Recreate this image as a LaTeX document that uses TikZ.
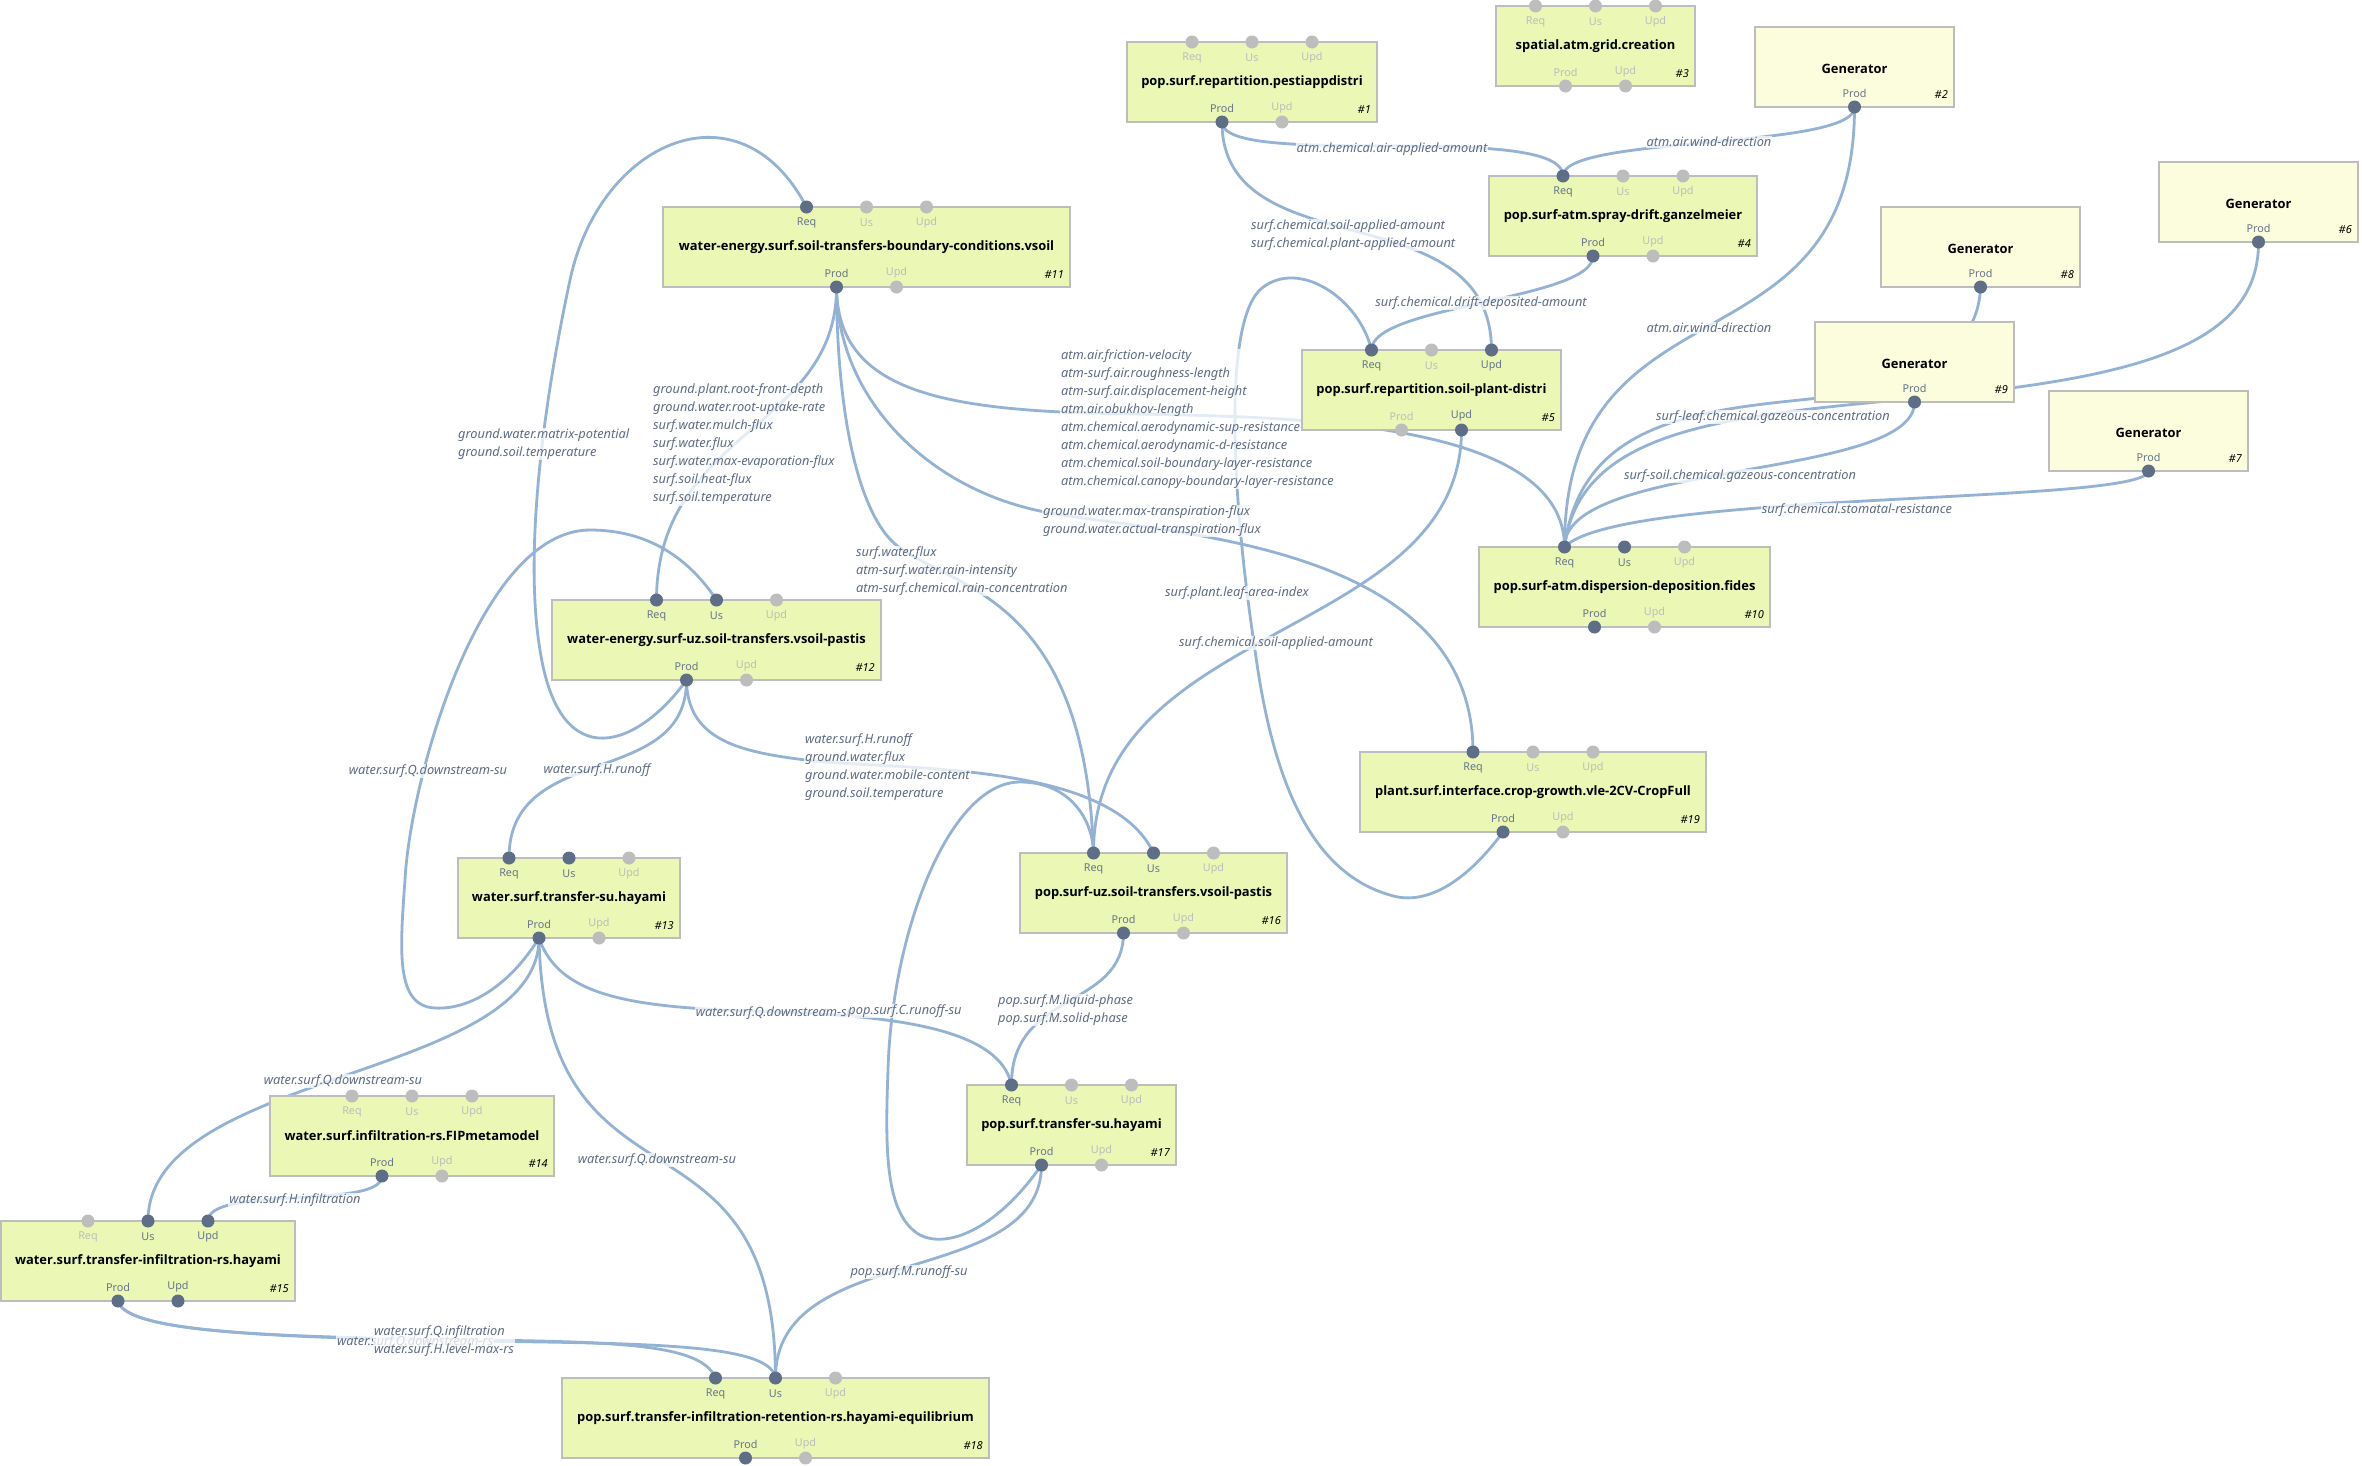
\documentclass[tikz,border=0pt]{standalone}
\usepackage{fontspec}
\setmainfont{Noto Sans}
\newfontfamily\tfont{Open Sans}
\usetikzlibrary{calc}
\pgfdeclarelayer{edgelayer}
\pgfdeclarelayer{labellayer}
\pgfsetlayers{edgelayer,labellayer,main}
\definecolor{edgec}{HTML}{93B2D4}
\definecolor{portAc}{HTML}{5D6E86}
\definecolor{portIc}{HTML}{BDBDBD}
\definecolor{lblAc}{HTML}{68758A}
\definecolor{lblIc}{HTML}{BDBDBD}
\definecolor{procfill}{HTML}{EBF7B5}
\definecolor{genfill}{HTML}{FBFDDC}
\definecolor{boxline}{HTML}{BDBDBD}
\definecolor{elabc}{HTML}{5F6C84}
\tikzset{
 edge/.style={draw=edgec, line width=2.8pt},
 elab/.style={font=\fontsize{12.8}{18}\selectfont\itshape, text=elabc, fill=white, fill opacity=0.75, text opacity=1, inner sep=1pt, align=left},
 pbox/.style={rectangle, draw=boxline, line width=2pt, fill=procfill, minimum height=80pt, inner sep=0pt},
 gbox/.style={pbox, fill=genfill},
 ptitle/.style={font=\tfont\fontsize{12.9}{15}\selectfont\bfseries, text=black, inner sep=0pt},
 pnum/.style={font=\fontsize{11}{13}\selectfont\itshape, text=black, inner sep=0pt},
 plabA/.style={font=\fontsize{10.8}{12}\selectfont, text=lblAc, inner sep=0pt},
 plabI/.style={plabA, text=lblIc},
 dotA/.style={circle, fill=portAc, minimum size=13pt, inner sep=0pt},
 dotI/.style={circle, fill=portIc, minimum size=13pt, inner sep=0pt},
}
% process box: name, cx, top, width, title, number
\newcommand{\procbox}[6]{%
 \node[pbox, minimum width=#4pt] (#1) at (#2,#3+40) {};
 \node[ptitle] (#1t) at (#2,#3+40) {#5};
 \node[pnum, anchor=east] (#1n) at (#2+#4/2-6,#3+68) {#6};
}
% top ports: name, cx, top, states
\newcommand{\tports}[6]{%
 \node[dot#4] (#1req) at (#2-60,#3) {}; \node[plab#4] (#1reqL) at (#2-60,#3+16) {Req};
 \node[dot#5] (#1us) at (#2,#3) {}; \node[plab#5] (#1usL) at (#2,#3+16) {Us};
 \node[dot#6] (#1upd) at (#2+60,#3) {}; \node[plab#6] (#1updL) at (#2+60,#3+16) {Upd};
}
% bottom ports: name, cx, top, states
\newcommand{\bports}[5]{%
 \node[dot#4] (#1prod) at (#2-30,#3+80) {}; \node[plab#4] (#1prodL) at (#2-30,#3+66) {Prod};
 \node[dot#5] (#1bupd) at (#2+30,#3+80) {}; \node[plab#5] (#1bupdL) at (#2+30,#3+66) {Upd};
}
% generator: name, cx, top, number
\newcommand{\genbox}[4]{%
 \node[gbox, minimum width=199pt] (#1) at (#2,#3+40) {};
 \node[ptitle] (#1t) at (#2,#3+42) {Generator};
 \node[pnum, anchor=east] (#1n) at (#2+93.5,#3+68) {#4};
 \node[dotA] (#1prod) at (#2,#3+80) {}; \node[plabA] (#1prodL) at (#2,#3+66) {Prod};
}
\begin{document}
\begin{tikzpicture}[x=1pt,y=-1pt]
\useasboundingbox (0,0) rectangle (2362,1465);
\begin{pgfonlayer}{edgelayer}
\fill[white] (0,0) rectangle (2362,1465);
\end{pgfonlayer}

% ---------- boxes and ports ----------
\procbox{n1}{1252}{42}{250}{pop.surf.repartition.pestiappdistri}{\#1}
\tports{n1}{1252}{42}{I}{I}{I}
\bports{n1}{1252}{42}{A}{I}

\procbox{n3}{1595.5}{6}{199}{spatial.atm.grid.creation}{\#3}
\tports{n3}{1595.5}{6}{I}{I}{I}
\bports{n3}{1595.5}{6}{I}{I}

\genbox{n2}{1854.5}{27}{\#2}
\genbox{n8}{1980.5}{207}{\#8}
\genbox{n6}{2258.5}{162}{\#6}
\genbox{n9}{1914.5}{322}{\#9}
\genbox{n7}{2148.5}{391}{\#7}

\procbox{n4}{1623}{176}{268}{pop.surf-atm.spray-drift.ganzelmeier}{\#4}
\tports{n4}{1623}{176}{A}{I}{I}
\bports{n4}{1623}{176}{A}{I}

\procbox{n11}{866.5}{207}{407}{water-energy.surf.soil-transfers-boundary-conditions.vsoil}{\#11}
\tports{n11}{866.5}{207}{A}{I}{I}
\bports{n11}{866.5}{207}{A}{I}

\procbox{n5}{1431.5}{350}{259}{pop.surf.repartition.soil-plant-distri}{\#5}
\tports{n5}{1431.5}{350}{A}{I}{A}
\bports{n5}{1431.5}{350}{I}{A}

\procbox{n10}{1624.5}{547}{291}{pop.surf-atm.dispersion-deposition.fides}{\#10}
\tports{n10}{1624.5}{547}{A}{A}{I}
\bports{n10}{1624.5}{547}{A}{I}

\procbox{n12}{716.5}{600}{329}{water-energy.surf-uz.soil-transfers.vsoil-pastis}{\#12}
\tports{n12}{716.5}{600}{A}{A}{I}
\bports{n12}{716.5}{600}{A}{I}

\procbox{n13}{569}{858}{222}{water.surf.transfer-su.hayami}{\#13}
\tports{n13}{569}{858}{A}{A}{I}
\bports{n13}{569}{858}{A}{I}

\procbox{n16}{1153.5}{853}{267}{pop.surf-uz.soil-transfers.vsoil-pastis}{\#16}
\tports{n16}{1153.5}{853}{A}{A}{I}
\bports{n16}{1153.5}{853}{A}{I}

\procbox{n19}{1533}{752}{346}{plant.surf.interface.crop-growth.vle-2CV-CropFull}{\#19}
\tports{n19}{1533}{752}{A}{I}{I}
\bports{n19}{1533}{752}{A}{I}

\procbox{n17}{1071.5}{1085}{209}{pop.surf.transfer-su.hayami}{\#17}
\tports{n17}{1071.5}{1085}{A}{I}{I}
\bports{n17}{1071.5}{1085}{A}{I}

\procbox{n14}{412}{1096}{284}{water.surf.infiltration-rs.FIPmetamodel}{\#14}
\tports{n14}{412}{1096}{I}{I}{I}
\bports{n14}{412}{1096}{A}{I}

\procbox{n15}{148}{1221}{294}{water.surf.transfer-infiltration-rs.hayami}{\#15}
\tports{n15}{148}{1221}{I}{A}{A}
\bports{n15}{148}{1221}{A}{A}

\procbox{n18}{775.5}{1378}{427}{pop.surf.transfer-infiltration-retention-rs.hayami-equilibrium}{\#18}
\tports{n18}{775.5}{1378}{A}{A}{I}
\bports{n18}{775.5}{1378}{A}{I}

% ---------- connectors ----------
\begin{pgfonlayer}{edgelayer}
\draw[edge] (n1prod.center) .. controls (1222,170) and (1563,120) .. (n4req.center);
\draw[edge] (n1prod.center) .. controls (1222,270) and (1491,190) .. (n5upd.center);
\draw[edge] (n2prod.center) .. controls (1855,150) and (1563,135) .. (n4req.center);
\draw[edge] (n2prod.center) .. controls (1855,380) and (1564,270) .. (n10req.center);
\draw[edge] (n4prod.center) .. controls (1593,300) and (1371,305) .. (n5req.center);
\draw[edge] (n11prod.center) .. controls (837,430) and (657,430) .. (n12req.center);
\draw[edge] (n11prod.center) .. controls (837,420) and (860,520) .. (900,548) .. controls (960,590) and (1085,600) .. (n16req.center);
\draw[edge] (n11prod.center) .. controls (837,380) and (920,405) .. (1061,412) .. controls (1200,419) and (1564,400) .. (n10req.center);
\draw[edge] (n11prod.center) .. controls (837,400) and (930,490) .. (1045,512) .. controls (1160,534) and (1473,540) .. (n19req.center);
\draw[edge] (n12prod.center) .. controls (687,790) and (509,740) .. (n13req.center);
\draw[edge] (n12prod.center) .. controls (687,740) and (740,752) .. (806,760) .. controls (900,771) and (1110,760) .. (n16us.center);
\draw[edge] (n12prod.center) .. controls (640,745) and (560,780) .. (540,650) .. controls (525,560) and (540,420) .. (570,280) .. controls (600,140) and (740,80) .. (n11req.center);
\draw[edge] (n13prod.center) .. controls (510,985) and (470,1010) .. (435,1008) .. controls (395,1006) and (400,950) .. (405,880) .. controls (410,780) and (480,530) .. (590,530) .. controls (650,530) and (690,560) .. (n12us.center);
\draw[edge] (n13prod.center) .. controls (560,1000) and (640,1008) .. (776,1012) .. controls (900,1016) and (1000,1030) .. (n17req.center);
\draw[edge] (n13prod.center) .. controls (539,1080) and (148,1070) .. (n15us.center);
\draw[edge] (n13prod.center) .. controls (545,1230) and (775,1090) .. (n18us.center);
\draw[edge] (n14prod.center) .. controls (382,1210) and (208,1185) .. (n15upd.center);
\draw[edge] (n15prod.center) .. controls (125,1330) and (250,1336) .. (420,1339) .. controls (600,1342) and (700,1340) .. (n18req.center);
\draw[edge] (n15prod.center) .. controls (125,1330) and (250,1336) .. (420,1340) .. controls (620,1344) and (770,1340) .. (n18us.center);
\draw[edge] (n16prod.center) .. controls (1123,1010) and (1011,990) .. (n17req.center);
\draw[edge] (n17prod.center) .. controls (1000,1225) and (950,1250) .. (920,1235) .. controls (885,1215) and (885,1150) .. (888,1070) .. controls (892,930) and (950,782) .. (1020,782) .. controls (1070,782) and (1093,820) .. (n16req.center);
\draw[edge] (n17prod.center) .. controls (1041,1290) and (775,1240) .. (n18us.center);
\draw[edge] (n5bupd.center) .. controls (1461,640) and (1093,620) .. (n16req.center);
\draw[edge] (n19prod.center) .. controls (1460,890) and (1420,905) .. (1390,895) .. controls (1320,875) and (1275,800) .. (1255,650) .. controls (1232,500) and (1222,320) .. (1262,288) .. controls (1300,258) and (1360,300) .. (n5req.center);
\draw[edge] (n9prod.center) .. controls (1915,480) and (1564,460) .. (n10req.center);
\draw[edge] (n6prod.center) .. controls (2259,340) and (2150,375) .. (1950,395) .. controls (1750,415) and (1580,420) .. (n10req.center);
\draw[edge] (n8prod.center) .. controls (1978,360) and (1900,390) .. (1800,400) .. controls (1680,412) and (1580,430) .. (n10req.center);
\draw[edge] (n7prod.center) .. controls (2145,505) and (1620,490) .. (n10req.center);
\end{pgfonlayer}

% ---------- connector labels ----------
\begin{pgfonlayer}{labellayer}
\node[elab] (l1) at (1392,149) {atm.chemical.air-applied-amount};
\node[elab, anchor=west] (l2) at (1250,235) {surf.chemical.soil-applied-amount\\surf.chemical.plant-applied-amount};
\node[elab] (l3) at (1709,142) {atm.air.wind-direction};
\node[elab] (l4) at (1709,328) {atm.air.wind-direction};
\node[elab] (l5) at (1481,303) {surf.chemical.drift-deposited-amount};
\node[elab, anchor=west] (l6) at (652,444.5) {ground.plant.root-front-depth\\ground.water.root-uptake-rate\\surf.water.mulch-flux\\surf.water.flux\\surf.water.max-evaporation-flux\\surf.soil.heat-flux\\surf.soil.temperature};
\node[elab, anchor=west] (l7) at (855,571) {surf.water.flux\\atm-surf.water.rain-intensity\\atm-surf.chemical.rain-concentration};
\node[elab, anchor=west] (l8) at (1060,419) {atm.air.friction-velocity\\atm-surf.air.roughness-length\\atm-surf.air.displacement-height\\atm.air.obukhov-length\\atm.chemical.aerodynamic-sup-resistance\\atm.chemical.aerodynamic-d-resistance\\atm.chemical.soil-boundary-layer-resistance\\atm.chemical.canopy-boundary-layer-resistance};
\node[elab, anchor=west] (l9) at (1042,521) {ground.water.max-transpiration-flux\\ground.water.actual-transpiration-flux};
\node[elab] (l10) at (597,770) {water.surf.H.runoff};
\node[elab, anchor=west] (l11) at (804,767) {water.surf.H.runoff\\ground.water.flux\\ground.water.mobile-content\\ground.soil.temperature};
\node[elab, anchor=west] (l12) at (457,444) {ground.water.matrix-potential\\ground.soil.temperature};
\node[elab] (l13) at (428,771) {water.surf.Q.downstream-su};
\node[elab] (l14) at (775,1013) {water.surf.Q.downstream-su};
\node[elab] (l15) at (343,1081) {water.surf.Q.downstream-su};
\node[elab] (l16) at (657,1160) {water.surf.Q.downstream-su};
\node[elab] (l17) at (295,1200) {water.surf.H.infiltration};
\node[elab, anchor=west] (l19) at (336,1342) {water.surf.Q.downstream-rs};
\node[elab, anchor=west] (l18) at (373,1341) {water.surf.Q.infiltration\\water.surf.H.level-max-rs};
\node[elab, anchor=west] (l20) at (997,1010) {pop.surf.M.liquid-phase\\pop.surf.M.solid-phase};
\node[elab] (l21) at (905,1011) {pop.surf.C.runoff-su};
\node[elab] (l22) at (909,1272) {pop.surf.M.runoff-su};
\node[elab] (l23) at (1276,643) {surf.chemical.soil-applied-amount};
\node[elab] (l24) at (1237,593) {surf.plant.leaf-area-index};
\node[elab] (l25) at (1740,476) {surf-soil.chemical.gazeous-concentration};
\node[elab] (l26) at (1773,417) {surf-leaf.chemical.gazeous-concentration};
\node[elab] (l28) at (1857,510) {surf.chemical.stomatal-resistance};
\end{pgfonlayer}
\end{tikzpicture}
\end{document}
